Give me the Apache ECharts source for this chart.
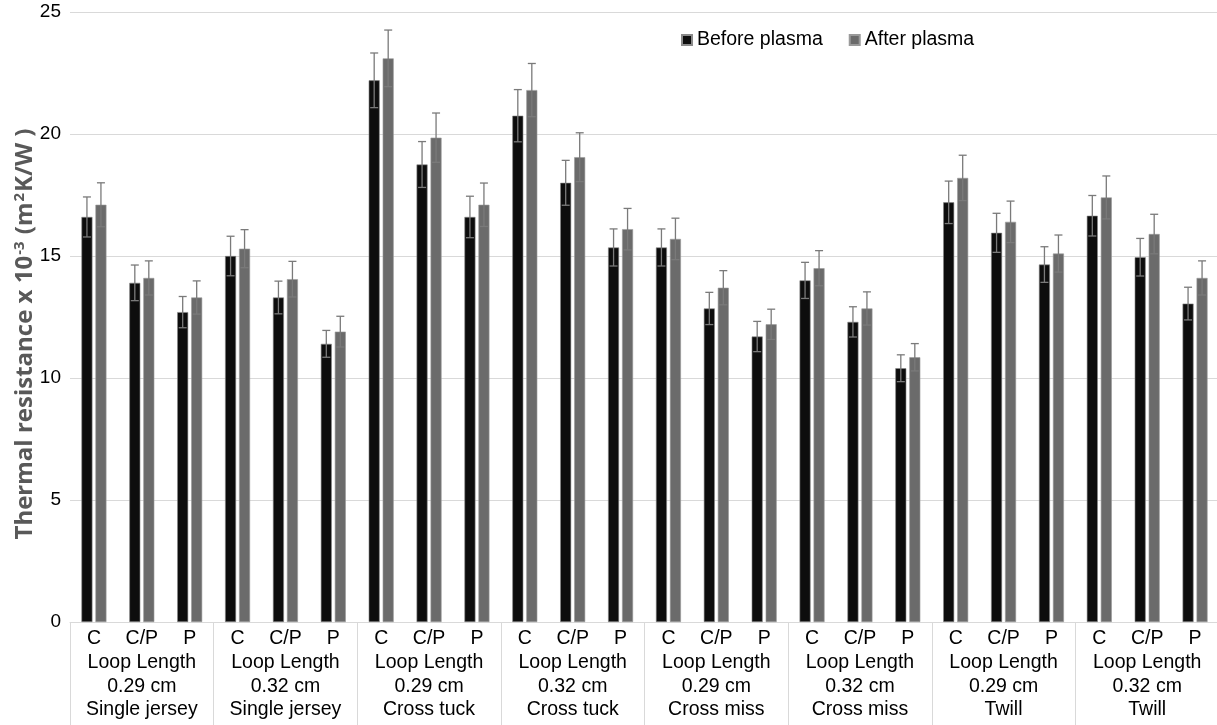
<!DOCTYPE html>
<html>
<head>
<meta charset="utf-8">
<script src="https://cdn.jsdelivr.net/npm/echarts@6/dist/echarts.min.js"></script>
<style>html,body{margin:0;padding:0;background:#fff}#c{width:1217px;height:725px}</style>
</head>
<body>
<div id="c"></div>
<script>
var catLabels = ['C','C/P','P','C','C/P','P','C','C/P','P','C','C/P','P','C','C/P','P','C','C/P','P','C','C/P','P','C','C/P','P'];
var groupLabels = [
  'Loop Length\n0.29 cm\nSingle jersey',
  'Loop Length\n0.32 cm\nSingle jersey',
  'Loop Length\n0.29 cm\nCross tuck',
  'Loop Length\n0.32 cm\nCross tuck',
  'Loop Length\n0.29 cm\nCross miss',
  'Loop Length\n0.32 cm\nCross miss',
  'Loop Length\n0.29 cm\nTwill',
  'Loop Length\n0.32 cm\nTwill'
];
var before = [16.6, 13.9, 12.7, 15.0, 13.3, 11.4, 22.2, 18.75, 16.6, 20.75, 18.0, 15.35, 15.35, 12.85, 11.7, 14.0, 12.3, 10.4, 17.2, 15.95, 14.65, 16.65, 14.95, 13.05];
var beforeErr = [0.82, 0.73, 0.64, 0.81, 0.67, 0.55, 1.12, 0.94, 0.85, 1.07, 0.92, 0.76, 0.76, 0.66, 0.62, 0.74, 0.62, 0.55, 0.87, 0.8, 0.73, 0.83, 0.77, 0.67];
var after = [17.1, 14.1, 13.3, 15.3, 14.05, 11.9, 23.1, 19.85, 17.1, 21.8, 19.05, 16.1, 15.7, 13.7, 12.2, 14.5, 12.85, 10.85, 18.2, 16.4, 15.1, 17.4, 15.9, 14.1];
var afterErr = [0.9, 0.7, 0.68, 0.78, 0.73, 0.63, 1.16, 1.01, 0.89, 1.09, 1.0, 0.85, 0.85, 0.7, 0.62, 0.72, 0.68, 0.56, 0.93, 0.85, 0.76, 0.88, 0.81, 0.7];
var yTicks = [0, 5, 10, 15, 20, 25];

var BAR_W = 11, GAP = 3;
var FONT = 'Liberation Sans, Arial, sans-serif';
var TFONT = 'Open Sans, sans-serif';

function errData(vals, errs) {
  return vals.map(function (v, i) { return [i, v, errs[i]]; });
}
function errRender(offset) {
  return function (params, api) {
    var i = api.value(0), v = api.value(1), e = api.value(2);
    var top = api.coord([i, v + e]);
    var bot = api.coord([i, v - e]);
    var x = top[0] + offset;
    var cap = 4;
    var style = { stroke: '#7a7a7a', lineWidth: 1.3 };
    return {
      type: 'group',
      children: [
        { type: 'line', shape: { x1: x, y1: top[1], x2: x, y2: bot[1] }, style: style },
        { type: 'line', shape: { x1: x - cap, y1: top[1], x2: x + cap, y2: top[1] }, style: style },
        { type: 'line', shape: { x1: x - cap, y1: bot[1], x2: x + cap, y2: bot[1] }, style: style }
      ]
    };
  };
}

var chart = echarts.init(document.getElementById('c'), null, { renderer: 'canvas' });
chart.setOption({
  animation: false,
  backgroundColor: '#fff',
  textStyle: { fontFamily: FONT },
  grid: { left: 70, right: -2, top: 12, bottom: 103, containLabel: false, outerBoundsMode: 'none' },
  legend: {
    left: 676, top: 25,
    itemWidth: 10, itemHeight: 10, itemGap: 26,
    icon: 'rect',
    textStyle: { fontSize: 19.5, color: '#000', fontFamily: FONT },
    data: ['Before plasma', 'After plasma']
  },
  xAxis: [
    {
      type: 'category', data: catLabels, position: 'bottom',
      axisLine: { show: true, lineStyle: { color: '#d9d9d9', width: 1 } },
      axisTick: { show: false },
      axisLabel: { interval: 0, fontSize: 19.5, color: '#000', margin: 7, fontFamily: FONT }
    },
    {
      type: 'category', data: groupLabels, position: 'bottom',
      axisLine: { show: false },
      axisTick: { show: true, length: 103, interval: 0, lineStyle: { color: '#d9d9d9', width: 1 } },
      axisLabel: { interval: 0, fontSize: 19.5, color: '#000', margin: 29, lineHeight: 23.5, fontFamily: FONT, align: 'center' }
    }
  ],
  yAxis: {
    type: 'value', min: 0, max: 25, interval: 5,
    axisLine: { show: false }, axisTick: { show: false },
    splitLine: { lineStyle: { color: '#d9d9d9', width: 1 } },
    axisLabel: { fontSize: 19, color: '#000', margin: 9, fontFamily: FONT },
    name: 'Thermal resistance x 10{sup|-3} (m{sup|2}K/W )',
    nameLocation: 'middle', nameGap: 31, nameRotate: 90, nameMoveOverlap: false,
    nameTextStyle: {
      fontSize: 24, fontWeight: 'bold', color: '#595959', fontFamily: TFONT,
      padding: [0, 34, 0, 0],
      rich: { sup: { fontSize: 15, fontWeight: 'bold', color: '#595959', verticalAlign: 'top', padding: [0, 1, 12, 1], fontFamily: TFONT } }
    }
  },
  series: [
    {
      name: 'Before plasma', type: 'bar', data: before, xAxisIndex: 0,
      barWidth: BAR_W, barGap: (GAP / BAR_W * 100) + '%',
      itemStyle: { color: '#0d0d0d', borderColor: '#8a8a8a', borderWidth: 0.6 }
    },
    {
      name: 'After plasma', type: 'bar', data: after, xAxisIndex: 0,
      barWidth: BAR_W,
      itemStyle: { color: '#6b6b6b', borderColor: '#9a9a9a', borderWidth: 0.6 }
    },
    {
      type: 'custom', xAxisIndex: 0, z: 5, silent: true,
      renderItem: errRender(-(BAR_W + GAP) / 2),
      data: errData(before, beforeErr)
    },
    {
      type: 'custom', xAxisIndex: 0, z: 5, silent: true,
      renderItem: errRender((BAR_W + GAP) / 2),
      data: errData(after, afterErr)
    }
  ]
});
</script>
</body>
</html>
